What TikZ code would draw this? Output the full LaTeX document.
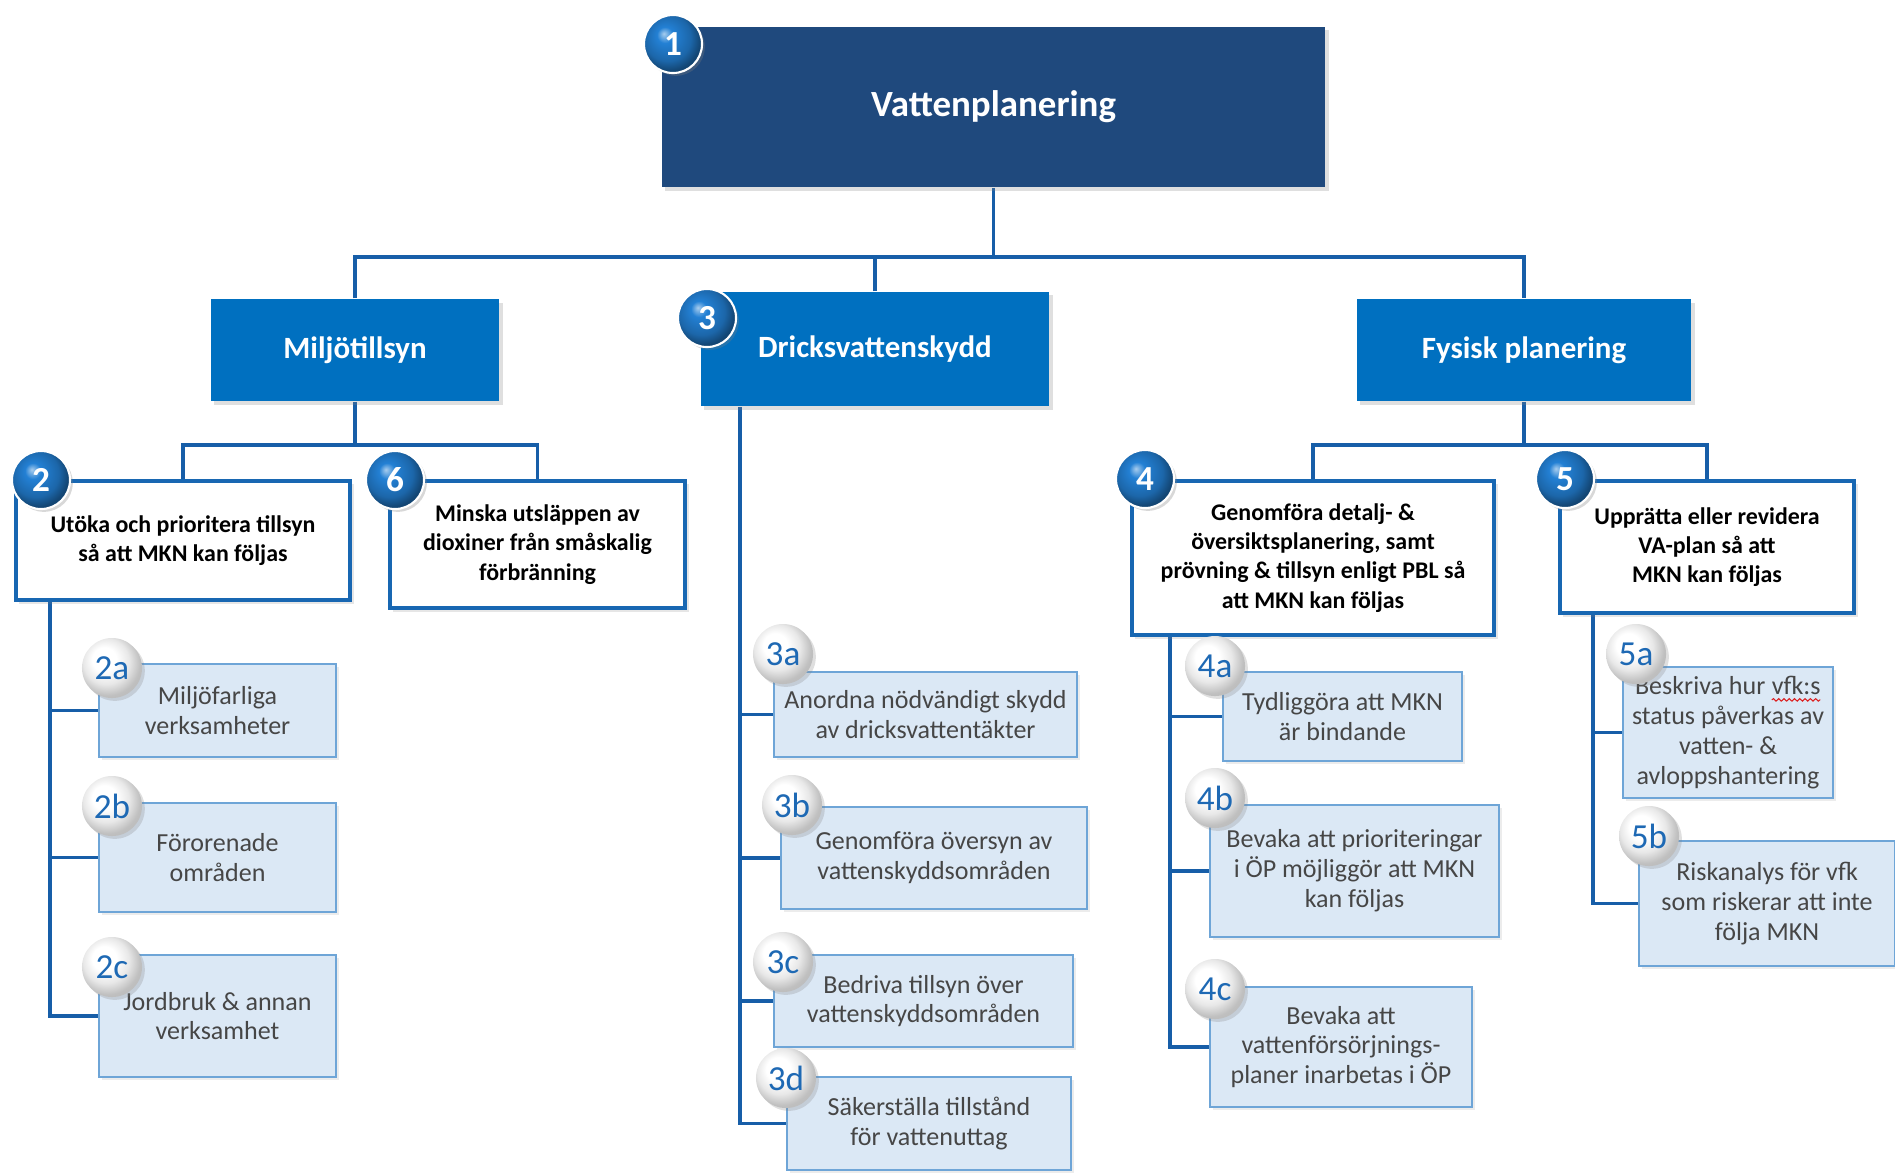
\documentclass[tikz,border=0pt]{standalone}
\usepackage{fontspec}
\setmainfont{Carlito}
\usepackage{tikz}
\usetikzlibrary{calc, shadows, backgrounds, positioning, decorations.pathmorphing}
\definecolor{planblue}{RGB}{31,73,125}
\definecolor{areablue}{RGB}{0,112,192}
\definecolor{goalblue}{RGB}{24,103,178}
\definecolor{linkblue}{RGB}{23,94,168}
\definecolor{taskfill}{RGB}{219,232,245}
\definecolor{taskline}{RGB}{110,165,215}
\definecolor{tasktext}{RGB}{70,70,70}
\definecolor{subblue}{RGB}{30,105,180}
\definecolor{spellred}{RGB}{220,30,30}
\definecolor{ballcore}{RGB}{35,128,212}
% spell-check wave under a word
\newcommand{\redwave}[1]{\tikz[baseline=(w.base), x=1cm, y=1cm]{%
    \node[inner sep=0pt, outer sep=0pt, minimum width=0pt, minimum height=0pt,
        draw=none, fill=none] (w) {#1};
    \draw[spellred, line width=0.3pt, decorate, decoration={snake, amplitude=0.35pt, segment length=1.5pt}]
        ([yshift=-1.5pt]w.base west) -- ([yshift=-1.5pt]w.base east);}}
\pgfdeclareradialshading{blueball}{\pgfqpoint{-8bp}{9bp}}{%
    color(0bp)=(white!60!ballcore); color(7bp)=(ballcore); color(20bp)=(ballcore!80!black);
    color(27bp)=(ballcore!55!black); color(50bp)=(ballcore!40!black)}
\pgfdeclareradialshading{silverball}{\pgfqpoint{-8bp}{9bp}}{%
    color(0bp)=(white); color(10bp)=(white); color(19bp)=(gray!18);
    color(27bp)=(gray!50); color(50bp)=(gray!65)}

\begin{document}
\begin{tikzpicture}
    [
        x=0.01cm, y=-0.01cm,
        planbox/.style={rectangle, fill=planblue, text=white, inner sep=0pt,
            font=\fontsize{10.5}{12.6}\selectfont\bfseries,
            drop shadow={opacity=0.25, shadow xshift=1pt, shadow yshift=-1pt}},
        areabox/.style={rectangle, fill=areablue, text=white, inner sep=0pt,
            font=\fontsize{8.8}{10.5}\selectfont\bfseries,
            drop shadow={opacity=0.25, shadow xshift=1pt, shadow yshift=-1pt}},
        goalbox/.style={rectangle, fill=white, draw=goalblue, line width=1.1pt,
            align=center, inner sep=0pt, font=\fontsize{6.8}{8.3}\selectfont\bfseries,
            drop shadow={opacity=0.2, shadow xshift=1pt, shadow yshift=-1pt}},
        taskbox/.style={rectangle, fill=taskfill, draw=taskline, line width=0.6pt,
            text=tasktext, align=center, inner sep=0pt, font=\fontsize{7.4}{8.5}\selectfont,
            drop shadow={opacity=0.15, shadow xshift=0.8pt, shadow yshift=-0.8pt}},
        numball/.style={circle, shading=blueball, draw=white, line width=0.6pt,
            text=white, minimum size=0.58cm, inner sep=0pt,
            font=\fontsize{10}{10}\selectfont\bfseries,
            drop shadow={opacity=0.3, shadow xshift=0.8pt, shadow yshift=-0.8pt}},
        subball/.style={circle, shading=silverball, text=subblue,
            minimum size=0.6cm, inner sep=0pt, font=\fontsize{10}{10}\selectfont,
            drop shadow={opacity=0.25, shadow xshift=0.8pt, shadow yshift=-0.8pt}},
        link/.style={linkblue, line width=1.1pt}
    ]
%    \draw[style=help lines,step=100] (0,0) grid (1895,1172);

    % top and areas
    \node[planbox, minimum width=6.63cm, minimum height=1.60cm] (plan) at (993.5,107) {Vattenplanering};
    \node[areabox, minimum width=2.88cm, minimum height=1.02cm] (miljo) at (355,350) {Miljötillsyn};
    \node[areabox, minimum width=3.48cm, minimum height=1.14cm] (dricks) at (875,349) {Dricksvattenskydd};
    \node[areabox, minimum width=3.34cm, minimum height=1.02cm] (fysisk) at (1524,350) {Fysisk planering};

    % goals
    \node[goalbox, minimum width=3.34cm, minimum height=1.19cm] (g2) at (183,540.5)
        {Utöka och prioritera tillsyn\\så att MKN kan följas};
    \node[goalbox, minimum width=2.95cm, minimum height=1.27cm] (g6) at (537.5,544.5)
        {Minska utsläppen av\\dioxiner från småskalig\\förbränning};
    \node[goalbox, minimum width=3.62cm, minimum height=1.54cm] (g4) at (1313,558)
        {Genomföra detalj- \&\\översiktsplanering, samt\\prövning \& tillsyn enligt PBL så\\att MKN kan följas};
    \node[goalbox, minimum width=2.94cm, minimum height=1.32cm] (g5) at (1707,547)
        {Upprätta eller revidera\\VA-plan så att\\MKN kan följas};

    % tasks
    \node[taskbox, minimum width=2.37cm, minimum height=0.93cm] (t2a) at (217.5,710.5) {Miljöfarliga\\verksamheter};
    \node[taskbox, minimum width=2.37cm, minimum height=1.09cm] (t2b) at (217.5,857.5) {Förorenade\\områden};
    \node[taskbox, minimum width=2.37cm, minimum height=1.22cm] (t2c) at (217.5,1016) {Jordbruk \& annan\\verksamhet};
    \node[taskbox, minimum width=3.03cm, minimum height=0.85cm] (t3a) at (925.5,714.5) {Anordna nödvändigt skydd\\av dricksvattentäkter};
    \node[taskbox, minimum width=3.06cm, minimum height=1.02cm] (t3b) at (934,858) {Genomföra översyn av\\vattenskyddsområden};
    \node[taskbox, minimum width=2.99cm, minimum height=0.92cm] (t3c) at (923.5,1001) {Bedriva tillsyn över\\vattenskyddsområden};
    \node[taskbox, minimum width=2.84cm, minimum height=0.93cm] (t3d) at (929,1123.5) {Säkerställa tillstånd\\för vattenuttag};
    \node[taskbox, minimum width=2.39cm, minimum height=0.89cm] (t4a) at (1342.5,716.5) {Tydliggöra att MKN\\är bindande};
    \node[taskbox, minimum width=2.89cm, minimum height=1.32cm] (t4b) at (1354.5,871) {Bevaka att prioriteringar\\i ÖP möjliggör att MKN\\kan följas};
    \node[taskbox, minimum width=2.62cm, minimum height=1.20cm] (t4c) at (1341,1047) {Bevaka att\\vattenförsörjnings-\\planer inarbetas i ÖP};
    \node[taskbox, minimum width=2.10cm, minimum height=1.31cm] (t5a) at (1728,732.5) {Beskriva hur \redwave{vfk:s}\\status påverkas av\\vatten- \&\\avloppshantering};
    \node[taskbox, minimum width=2.56cm, minimum height=1.25cm] (t5b) at (1767,903.5) {Riskanalys för vfk\\som riskerar att inte\\följa MKN};

    % connectors
    \begin{scope}[on background layer]
        \coordinate (bus1) at (0,257);
        \coordinate (bus2) at (0,445);
        \draw[link] (plan.south) -- (plan.south |- bus1);
        \draw[link] (miljo.north) |- (bus1 -| fysisk.north) -- (fysisk.north);
        \draw[link] (dricks.north) -- (dricks.north |- bus1);
        \draw[link] (miljo.south) -- (miljo.south |- bus2);
        \draw[link] (g2.north) |- (bus2 -| g6.north) -- (g6.north);
        \draw[link] (fysisk.south) -- (fysisk.south |- bus2);
        \draw[link] (g4.north) |- (bus2 -| g5.north) -- (g5.north);

        \coordinate (s2) at (50,0);
        \coordinate (s3) at (740,0);
        \coordinate (s4) at (1170,0);
        \coordinate (s5) at (1593,0);
        \draw[link] (s2 |- g2.south) |- (t2c.west);
        \draw[link] (s3 |- dricks.south) |- (t3d.west);
        \draw[link] (s4 |- g4.south) |- (t4c.west);
        \draw[link] (s5 |- g5.south) |- (t5b.west);
        \foreach \s/\t in {s2/t2a, s2/t2b, s3/t3a, s3/t3b, s3/t3c, s4/t4a, s4/t4b, s5/t5a}
        {
            \draw[link] (\s |- \t.west) -- (\t.west);
        }
    \end{scope}

    % number badges
    \foreach \n/\x/\y in {1/673/44, 2/41/480, 3/707/318, 4/1145/479, 5/1565/479, 6/395/480}
    {
        \node[numball] (b\n) at (\x,\y) {\n};
    }
    \foreach \n/\x/\y in {2a/112/668, 2b/112/806, 2c/112/967, 3a/783/654, 3b/792/805,
        3c/783/962, 3d/786/1078, 4a/1215/666, 4b/1215/798, 4c/1215/989, 5a/1636/654, 5b/1649/836}
    {
        \node[subball] (b\n) at (\x,\y) {\n};
    }

    \pgfresetboundingbox
    \useasboundingbox (0,0) rectangle (1895,1172);
\end{tikzpicture}
\end{document}
